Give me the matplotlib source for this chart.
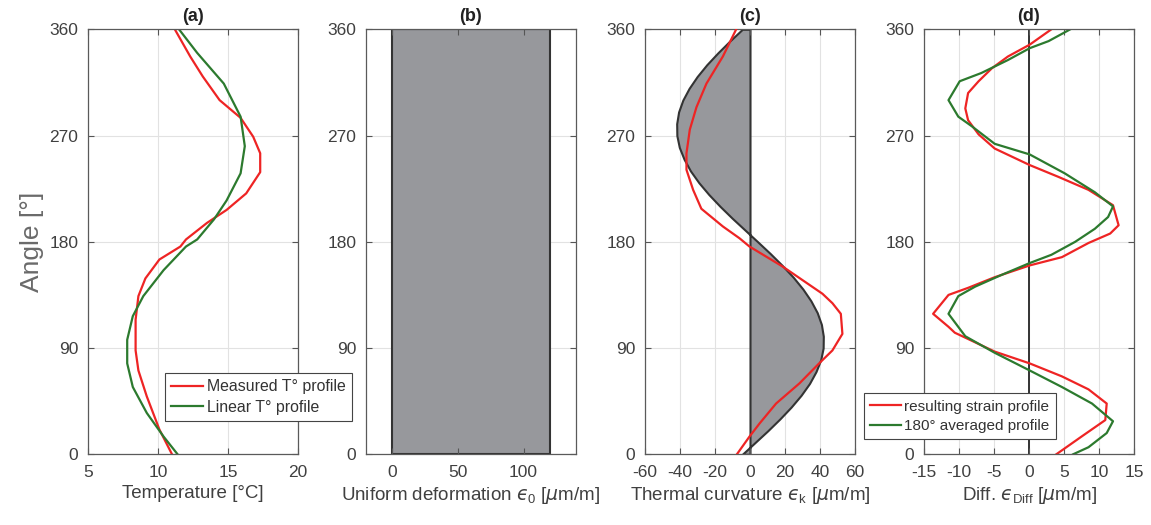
import matplotlib
matplotlib.use("Agg")
import matplotlib.pyplot as plt

plt.rcParams['font.family'] = ['Liberation Sans', 'DejaVu Sans']
plt.rcParams['mathtext.fontset'] = 'custom'
plt.rcParams['mathtext.rm'] = 'Liberation Sans'
plt.rcParams['mathtext.it'] = 'DejaVu Sans:italic'
plt.rcParams['mathtext.bf'] = 'Liberation Sans:bold'
plt.rcParams['axes.unicode_minus'] = False

# ---------------- data ----------------
# (a) temperature profiles around the section
temp_meas_angle = [0, 21, 49, 71, 88, 114, 134, 149, 165, 176, 182, 196, 207, 221, 239, 255, 269, 285, 300, 320, 337, 360]
temp_meas = [11.0, 10.1, 9.2, 8.6, 8.4, 8.4, 8.6, 9.1, 10.1, 11.6, 12.0, 13.5, 14.9, 16.3, 17.3, 17.3, 16.8, 15.9, 14.4, 13.2, 12.3, 11.2]
temp_lin_angle = [0, 15, 35, 57, 77, 97, 117, 134, 156, 176, 182, 199, 215, 238, 261, 286, 314, 340, 360]
temp_lin = [11.4, 10.4, 9.2, 8.2, 7.8, 7.8, 8.2, 8.95, 10.4, 12.0, 12.8, 14.0, 14.9, 15.9, 16.2, 15.9, 14.7, 12.8, 11.5]

# (b) uniform deformation
eps0_value = 120.0

# (c) thermal curvature
curv_angle = list(range(0, 361, 10))
curv_fit = [-4.4, 2.9, 10.2, 17.1, 23.5, 29.2, 34.0, 37.7, 40.4, 41.8, 41.9, 40.8, 38.4,
            34.8, 30.2, 24.7, 18.4, 11.6, 4.4, -2.9, -10.2, -17.1, -23.5, -29.2, -34.0,
            -37.7, -40.4, -41.8, -41.9, -40.8, -38.4, -34.8, -30.2, -24.7, -18.4, -11.6, -4.4]
curv_meas_angle = [0, 15, 26, 43, 60, 77, 88, 102, 119, 128, 136, 159, 176, 183, 193, 208, 224, 241, 255, 275, 294, 314, 337, 360]
curv_meas = [-7.5, -0.3, 5.4, 14.9, 28.2, 39.5, 47.1, 52.8, 51.9, 47.1, 41.4, 18.7, -0.3, -6.0, -15.5, -27.8, -32.5, -36.3, -36.3, -34.4, -30.6, -24.9, -15.5, -7.9]

# (d) differential strain
diff_res_angle = [0, 15, 29, 43, 55, 66, 77, 87, 103, 108, 119, 135, 141, 150, 160, 167, 179, 187, 194, 211, 224, 235, 245, 259, 271, 283, 293, 306, 316, 327, 337, 347, 360]
diff_res = [3.9, 7.5, 10.9, 11.1, 8.5, 4.7, 0.1, -4.9, -10.6, -11.5, -13.7, -11.5, -8.7, -4.9, 0.1, 4.7, 8.5, 11.6, 12.8, 12.0, 8.5, 4.2, 0.1, -4.9, -7.2, -8.7, -9.1, -8.7, -7.2, -5.3, -3.0, 0.1, 3.2]
diff_avg_angle = [0, 6, 18, 28, 43, 57, 71, 86, 100, 119, 134, 142, 152, 162, 169, 180, 191, 201, 210, 222, 238, 254, 263, 278, 286, 300, 316, 323, 334, 344, 350, 360]
diff_avg = [6.3, 8.5, 11.1, 12.0, 9.0, 4.7, 0.1, -4.9, -9.1, -11.5, -10.1, -7.7, -3.9, 0.1, 3.2, 6.6, 9.4, 11.3, 12.0, 9.4, 5.1, 0.1, -4.9, -8.2, -10.1, -11.5, -9.9, -6.8, -3.0, 0.1, 2.8, 5.9]

angle_ticks = [0, 90, 180, 270, 360]

# ---------------- style ----------------
RED = '#ee2424'
GREEN = '#2c7a2e'
FILL = '#97989c'
EDGE = '#333333'
TXT = '#404040'
GRID = '#e2e2e2'

W, H = 1151, 525
fig = plt.figure(figsize=(W / 100, H / 100), dpi=100, facecolor='white')

lefts = [88, 366, 645, 924]
ax_w = 210
ax_bottom = (H - 454.3) / H
ax_h = 425 / H
axes = [fig.add_axes([l / W, ax_bottom, ax_w / W, ax_h]) for l in lefts]


def style(ax, xlim, xticks, title, xlabel):
    ax.set_xlim(*xlim)
    ax.set_ylim(0, 360)
    ax.set_xticks(xticks)
    ax.set_yticks(angle_ticks)
    for xv in xticks:
        ax.axvline(xv, color=GRID, lw=0.8, zorder=0.5)
    for yv in angle_ticks:
        ax.axhline(yv, color=GRID, lw=0.8, zorder=0.5)
    ax.tick_params(direction='in', length=4, width=0.8, top=True, right=True,
                   colors='#555555', labelcolor=TXT, labelsize=12.5)
    ax.tick_params(axis='x', pad=8)
    ax.tick_params(axis='y', pad=7)
    for s in ax.spines.values():
        s.set_color('#5a5a5a')
        s.set_linewidth(0.9)
    ax.set_title(title, fontsize=13, fontweight='bold', color='#222222', pad=6)
    ax.set_xlabel(xlabel, fontsize=13.5, color=TXT, labelpad=3)


def add_legend(ax, anchor, size):
    leg = ax.legend(loc='lower left', bbox_to_anchor=anchor,
                    bbox_transform=fig.transFigure, borderaxespad=0, fontsize=size,
                    fancybox=False, edgecolor='#444444', framealpha=1,
                    handlelength=2.0, handletextpad=0.25, borderpad=0.4, labelspacing=0.35)
    leg.get_frame().set_linewidth(0.8)
    for t in leg.get_texts():
        t.set_color('#333333')


# (a)
ax = axes[0]
style(ax, (5, 20), [5, 10, 15, 20], '(a)', 'Temperature [°C]')
ax.plot(temp_meas, temp_meas_angle, color=RED, lw=1.6, label='Measured T° profile')
ax.plot(temp_lin, temp_lin_angle, color=GREEN, lw=1.6, label='Linear T° profile')
ax.set_ylabel('Angle [°]', fontsize=19, color='#6a6a6a', labelpad=4)
add_legend(ax, (165 / W, (H - 421) / H), 11.4)

# (b)
ax = axes[1]
style(ax, (-20, 140), [0, 50, 100], '(b)', 'Uniform deformation $ϵ_0$ [$\\mu$m/m]')
ax.fill_betweenx([0, 360], [0, 0], [eps0_value, eps0_value], facecolor=FILL,
                 edgecolor=EDGE, lw=1.5, zorder=1)

# (c)
ax = axes[2]
style(ax, (-60, 60), [-60, -40, -20, 0, 20, 40, 60], '(c)',
      'Thermal curvature $ϵ_\\mathrm{k}$ [$\\mu$m/m]')
ax.fill_betweenx(curv_angle, 0, curv_fit, facecolor=FILL, edgecolor=EDGE, lw=1.5, zorder=1)
ax.plot(curv_meas, curv_meas_angle, color=RED, lw=1.6, zorder=3)

# (d)
ax = axes[3]
style(ax, (-15, 15), [-15, -10, -5, 0, 5, 10, 15], '(d)',
      'Diff. $ϵ_\\mathrm{Diff}$ [$\\mu$m/m]')
ax.axvline(0, color=EDGE, lw=1.4, zorder=1.5)
ax.plot(diff_res, diff_res_angle, color=RED, lw=1.6, label='resulting strain profile')
ax.plot(diff_avg, diff_avg_angle, color=GREEN, lw=1.6, label='180° averaged profile')
add_legend(ax, (864 / W, (H - 439) / H), 11.0)

fig.savefig('out.png', dpi=100, facecolor='white')
